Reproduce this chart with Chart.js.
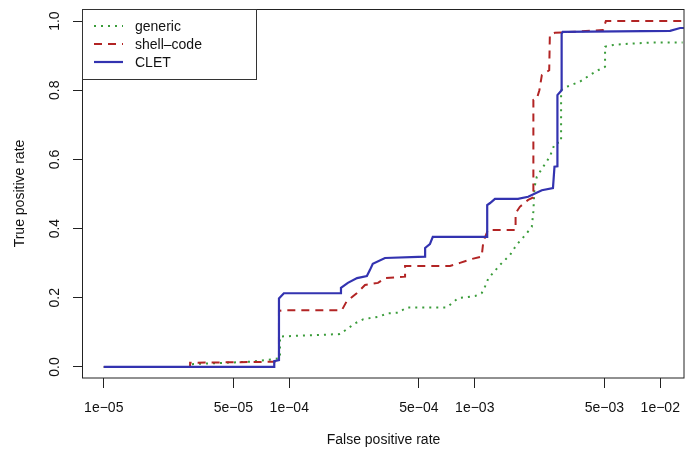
<!DOCTYPE html>
<html>
<head>
<meta charset="utf-8">
<script src="https://cdn.jsdelivr.net/npm/chart.js@4.4.1/dist/chart.umd.min.js"></script>
<style>
  html, body { margin: 0; padding: 0; background: #ffffff; }
  #wrap { width: 687px; height: 456px; }
</style>
</head>
<body>
<div id="wrap"><canvas id="c" width="687" height="456"></canvas></div>
<script>
// ---- data ----
const seriesNames = ['generic', 'shell\u2013code', 'CLET'];

const genericFpr = [1e-5, 2.98e-5, 2.98e-5, 6.14e-5, 8.37e-5, 8.91e-5, 8.91e-5, 1.875e-4, 2.08e-4, 2.26e-4, 2.51e-4, 3.02e-4, 3.40e-4, 3.86e-4, 4.30e-4, 7.06e-4, 8.15e-4, 1.003e-3, 1.089e-3, 1.135e-3, 1.183e-3, 1.368e-3, 1.55e-3, 1.68e-3, 1.87e-3, 2.03e-3, 2.07e-3, 2.10e-3, 2.16e-3, 2.34e-3, 2.54e-3, 2.62e-3, 2.70e-3, 2.92e-3, 2.92e-3, 3.13e-3, 3.69e-3, 4.18e-3, 4.63e-3, 5.04e-3, 5.04e-3, 5.58e-3, 6.88e-3, 9.15e-3, 1.32e-2];
const genericTpr = [0, 0, 0.008, 0.015, 0.023, 0.025, 0.088, 0.095, 0.112, 0.126, 0.138, 0.145, 0.155, 0.157, 0.172, 0.172, 0.199, 0.205, 0.213, 0.232, 0.256, 0.295, 0.324, 0.353, 0.381, 0.405, 0.45, 0.52, 0.55, 0.579, 0.608, 0.627, 0.646, 0.65, 0.80, 0.81, 0.825, 0.844, 0.858, 0.868, 0.926, 0.931, 0.935, 0.938, 0.938];

const shellFpr = [1e-5, 2.92e-5, 2.92e-5, 8.5e-5, 8.8e-5, 8.8e-5, 9.25e-5, 1.92e-4, 2.04e-4, 2.31e-4, 2.56e-4, 3.01e-4, 3.28e-4, 4.21e-4, 4.21e-4, 7.35e-4, 8.32e-4, 9.62e-4, 1.089e-3, 1.112e-3, 1.178e-3, 1.66e-3, 1.66e-3, 1.75e-3, 1.94e-3, 2.07e-3, 2.07e-3, 2.16e-3, 2.23e-3, 2.30e-3, 2.52e-3, 2.54e-3, 2.70e-3, 4.91e-3, 5.09e-3, 1.34e-2];
const shellTpr = [0, 0, 0.012, 0.015, 0.017, 0.162, 0.164, 0.164, 0.19, 0.213, 0.237, 0.243, 0.257, 0.261, 0.292, 0.292, 0.301, 0.312, 0.319, 0.362, 0.396, 0.396, 0.444, 0.463, 0.483, 0.49, 0.772, 0.775, 0.80, 0.844, 0.858, 0.96, 0.966, 0.974, 1.0, 1.0];

const cletFpr = [1e-5, 8.3e-5, 8.3e-5, 8.8e-5, 8.8e-5, 9.35e-5, 1.90e-4, 1.90e-4, 2.07e-4, 2.32e-4, 2.62e-4, 2.72e-4, 2.82e-4, 3.28e-4, 5.40e-4, 5.40e-4, 5.73e-4, 5.94e-4, 1.167e-3, 1.167e-3, 1.21e-3, 1.285e-3, 1.71e-3, 1.94e-3, 2.30e-3, 2.64e-3, 2.69e-3, 2.79e-3, 2.79e-3, 2.94e-3, 2.94e-3, 2.98e-3, 1.13e-2, 1.28e-2, 1.34e-2];
const cletTpr = [0, 0, 0.017, 0.02, 0.198, 0.213, 0.213, 0.229, 0.243, 0.257, 0.263, 0.280, 0.298, 0.315, 0.319, 0.344, 0.355, 0.376, 0.376, 0.468, 0.474, 0.486, 0.486, 0.492, 0.511, 0.517, 0.579, 0.58, 0.786, 0.80, 0.964, 0.969, 0.972, 0.98, 0.98];

const xTickValues = [1e-5, 5e-5, 1e-4, 5e-4, 1e-3, 5e-3, 1e-2];
const xTickLabels = ['1e\u221205', '5e\u221205', '1e\u221204', '5e\u221204', '1e\u221203', '5e\u221203', '1e\u221202'];
const yTickValues = [0, 0.2, 0.4, 0.6, 0.8, 1.0];
const yTickLabels = ['0.0', '0.2', '0.4', '0.6', '0.8', '1.0'];

const xTitle = 'False positive rate';
const yTitle = 'True positive rate';

// ---- styling ----
const FONT = '"Liberation Sans", Arial, Helvetica, sans-serif';
const colors = ['#3a9c3a', '#b22424', '#3333b0'];
const dashes = [[2, 5], [8, 6], []];
const widths = [2, 2, 2.2];

function pts(xs, ys) { return xs.map((x, i) => ({ x: x, y: ys[i] })); }

const boxPlugin = {
  id: 'rbox',
  afterDatasetsDraw(chart) {
    const { ctx, chartArea: a } = chart;
    ctx.save();
    ctx.strokeStyle = '#222';
    ctx.lineWidth = 1;
    ctx.setLineDash([]);
    ctx.strokeRect(Math.round(a.left) - 0.5, Math.round(a.top) + 0.5, Math.round(a.right - a.left) + 0.5, Math.round(a.bottom - a.top) - 0.5);
    // legend
    const lx = Math.round(a.left) - 0.5, ly = Math.round(a.top) + 0.5;
    const lw = 174, lh = 70;
    ctx.fillStyle = '#fff';
    ctx.fillRect(lx, ly, lw, lh);
    ctx.strokeStyle = '#333';
    ctx.strokeRect(lx, ly, lw, lh);
    const rows = [26, 44, 62];
    chart.data.datasets.forEach((ds, i) => {
      ctx.save();
      ctx.strokeStyle = ds.borderColor;
      ctx.lineWidth = ds.borderWidth;
      ctx.setLineDash(ds.borderDash || []);
      ctx.beginPath();
      ctx.moveTo(94, rows[i]);
      ctx.lineTo(123, rows[i]);
      ctx.stroke();
      ctx.restore();
      ctx.fillStyle = '#111';
      ctx.font = '14px ' + FONT;
      ctx.textBaseline = 'middle';
      ctx.textAlign = 'left';
      ctx.fillText(ds.label, 135, rows[i] + 1);
    });
    ctx.restore();
  }
};

new Chart(document.getElementById('c'), {
  type: 'line',
  data: {
    datasets: [
      { label: seriesNames[0], data: pts(genericFpr, genericTpr), borderColor: colors[0], borderDash: dashes[0], borderWidth: widths[0], order: 2 },
      { label: seriesNames[1], data: pts(shellFpr, shellTpr), borderColor: colors[1], borderDash: dashes[1], borderWidth: widths[1], order: 1 },
      { label: seriesNames[2], data: pts(cletFpr, cletTpr), borderColor: colors[2], borderDash: dashes[2], borderWidth: widths[2], order: 0 }
    ]
  },
  options: {
    responsive: false,
    animation: false,
    devicePixelRatio: 1,
    layout: { padding: { left: 0, top: 9, right: 3, bottom: 0 } },
    elements: { point: { radius: 0 }, line: { tension: 0, fill: false } },
    plugins: { legend: { display: false }, tooltip: { enabled: false } },
    scales: {
      x: {
        type: 'logarithmic',
        min: Math.pow(10, -5.112),
        max: Math.pow(10, -1.872),
        afterBuildTicks: s => { s.ticks = xTickValues.map(v => ({ value: v })); },
        afterFit: s => { s.height = 78; s.paddingLeft = 0; s.paddingRight = 0; },
        ticks: {
          autoSkip: false, maxRotation: 0, minRotation: 0, padding: 12,
          color: '#111', font: { family: FONT, size: 14 },
          callback: (v, i) => xTickLabels[i]
        },
        grid: { display: true, drawOnChartArea: false, drawTicks: true, tickLength: 10, color: '#222', lineWidth: 1 },
        border: { display: false },
        title: { display: true, text: xTitle, color: '#111', font: { family: FONT, size: 14 }, padding: { top: 0, bottom: 7 } }
      },
      y: {
        type: 'linear',
        min: -0.032,
        max: 1.035,
        afterBuildTicks: s => { s.ticks = yTickValues.map(v => ({ value: v })); },
        afterFit: s => { s.width = 83; s.paddingTop = 0; s.paddingBottom = 0; },
        ticks: {
          autoSkip: false, minRotation: 90, maxRotation: 90, padding: 8, crossAlign: 'center',
          color: '#111', font: { family: FONT, size: 14 },
          callback: (v, i) => yTickLabels[i]
        },
        grid: { display: true, drawOnChartArea: false, drawTicks: true, tickLength: 10, color: '#222', lineWidth: 1 },
        border: { display: false },
        title: { display: true, text: yTitle, color: '#111', font: { family: FONT, size: 14 }, padding: { top: 12, bottom: 0 } }
      }
    }
  },
  plugins: [boxPlugin]
});
</script>
</body>
</html>
